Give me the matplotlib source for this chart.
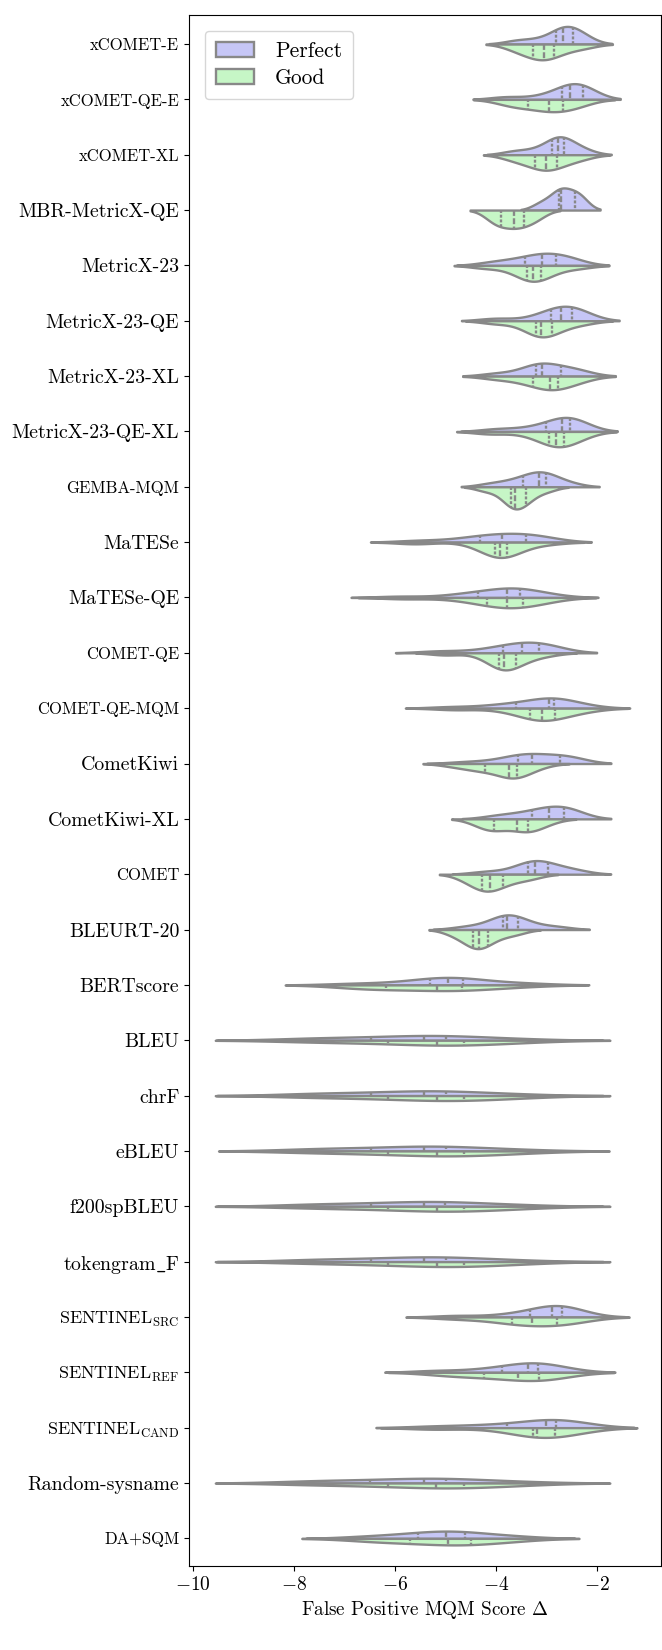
import matplotlib
matplotlib.use("Agg")
import pandas as pd
import matplotlib.pyplot as plt
import seaborn as sns
from matplotlib.patches import Patch

plt.rcParams['font.family'] = 'cmr10'
plt.rcParams['mathtext.fontset'] = 'cm'
plt.rcParams['axes.formatter.use_mathtext'] = True

metrics = ["xCOMET-E", "xCOMET-QE-E", "xCOMET-XL", "MBR-MetricX-QE", "MetricX-23",
           "MetricX-23-QE", "MetricX-23-XL", "MetricX-23-QE-XL", "GEMBA-MQM", "MaTESe",
           "MaTESe-QE", "COMET-QE", "COMET-QE-MQM", "CometKiwi", "CometKiwi-XL", "COMET",
           "BLEURT-20", "BERTscore", "BLEU", "chrF", "eBLEU", "f200spBLEU", "tokengram_F",
           "Sentinel-src", "Sentinel-ref", "Sentinel-cand", "Random-sysname", "DA+SQM"]

tick_labels = ["xCOMET-E", "xCOMET-QE-E", "xCOMET-XL", "MBR-MetricX-QE", "MetricX-23",
               "MetricX-23-QE", "MetricX-23-XL", "MetricX-23-QE-XL", "GEMBA-MQM", "MaTESe",
               "MaTESe-QE", "COMET-QE", "COMET-QE-MQM", "CometKiwi", "CometKiwi-XL", "COMET",
               "BLEURT-20", "BERTscore", "BLEU", "chrF", "eBLEU", "f200spBLEU", r"tokengram$\_$F",
               r"SENTINEL$_\mathregular{SRC}$", r"SENTINEL$_\mathregular{REF}$",
               r"SENTINEL$_\mathregular{CAND}$", "Random-sysname", "DA+SQM"]

small_caps = ["xCOMET-E", "xCOMET-QE-E", "xCOMET-XL", "GEMBA-MQM", "COMET-QE",
              "COMET-QE-MQM", "COMET", "DA+SQM"]
sentinels = ["Sentinel-src", "Sentinel-ref", "Sentinel-cand"]

# false positive MQM score delta, per metric
perfect = {
    "xCOMET-E": [-3.6, -3.2, -2.82, -2.72, -2.67, -2.6, -2.47, -2.4, -2.25],
    "xCOMET-QE-E": [-3.8, -3.1, -2.69, -2.6, -2.54, -2.45, -2.29, -2.25, -2.2],
    "xCOMET-XL": [-3.65, -3.25, -2.90, -2.82, -2.77, -2.72, -2.66, -2.5, -2.25],
    "MBR-MetricX-QE": [-3.15, -2.95, -2.76, -2.73, -2.71, -2.58, -2.44, -2.36, -2.3],
    "MetricX-23": [-4.1, -3.7, -3.42, -3.2, -3.09, -2.95, -2.81, -2.6, -2.45],
    "MetricX-23-QE": [-4.0, -3.2, -2.91, -2.8, -2.71, -2.6, -2.5, -2.35, -2.25],
    "MetricX-23-XL": [-4.0, -3.45, -3.21, -3.15, -3.09, -2.95, -2.71, -2.5, -2.3],
    "MetricX-23-QE-XL": [-4.0, -3.4, -3.01, -2.8, -2.69, -2.6, -2.54, -2.4, -2.3],
    "GEMBA-MQM": [-4.1, -3.7, -3.46, -3.3, -3.16, -3.08, -3.02, -2.9, -2.55],
    "MaTESe": [-5.5, -4.6, -4.32, -4.05, -3.88, -3.65, -3.40, -3.2, -3.1],
    "MaTESe-QE": [-5.9, -4.8, -4.45, -4.33, -3.95, -3.82, -3.74, -3.66, -3.56, -3.45, -3.25, -2.95],
    "COMET-QE": [-5.1, -4.2, -3.86, -3.6, -3.48, -3.35, -3.15, -3.0, -2.9],
    "COMET-QE-MQM": [-4.9, -4.1, -3.75, -3.55, -3.2, -2.98, -2.93, -2.9, -2.87, -2.8, -2.55, -2.25],
    "CometKiwi": [-4.6, -4.0, -3.65, -3.55, -3.45, -3.35, -3.22, -3.05, -2.78, -2.6, -2.55, -2.5],
    "CometKiwi-XL": [-4.0, -3.6, -3.29, -3.1, -2.96, -2.8, -2.66, -2.55, -2.4],
    "COMET": [-4.2, -3.6, -3.36, -3.28, -3.23, -3.1, -2.98, -2.7, -2.4],
    "BLEURT-20": [-4.6, -4.1, -3.86, -3.82, -3.78, -3.68, -3.57, -3.3, -2.8],
    "BERTscore": [-6.8, -5.8, -5.30, -5.1, -4.95, -4.8, -4.66, -4.2, -3.4],
    "BLEU": [-7.8, -7.2, -6.47, -5.8, -5.43, -5.2, -4.99, -4.4, -3.6],
    "chrF": [-7.8, -7.2, -6.47, -5.8, -5.43, -5.2, -4.99, -4.4, -3.6],
    "eBLEU": [-7.75, -7.2, -6.47, -5.8, -5.43, -5.2, -4.99, -4.4, -3.6],
    "f200spBLEU": [-7.8, -7.2, -6.47, -5.8, -5.42, -5.2, -5.0, -4.4, -3.6],
    "tokengram_F": [-7.8, -7.2, -6.47, -5.8, -5.43, -5.2, -4.99, -4.4, -3.6],
    "Sentinel-src": [-4.8, -3.9, -3.42, -3.3, -3.0, -2.93, -2.87, -2.8, -2.72, -2.6, -2.45, -2.3],
    "Sentinel-ref": [-5.2, -4.3, -3.88, -3.5, -3.36, -3.27, -3.17, -2.95, -2.65],
    "Sentinel-cand": [-5.2, -4.3, -3.78, -3.2, -3.02, -2.92, -2.81, -2.5, -2.45],
    "Random-sysname": [-7.8, -7.2, -6.50, -5.8, -5.43, -5.2, -4.99, -4.4, -3.6],
    "DA+SQM": [-6.6, -5.9, -5.54, -5.2, -4.99, -4.8, -4.61, -4.2, -3.6],
}

good = {
    "xCOMET-E": [-3.65, -3.45, -3.26, -3.15, -3.06, -2.95, -2.85, -2.6, -2.25],
    "xCOMET-QE-E": [-3.8, -3.6, -3.36, -3.1, -2.96, -2.85, -2.67, -2.5, -2.3],
    "xCOMET-XL": [-3.7, -3.45, -3.23, -3.1, -3.02, -2.92, -2.79, -2.6, -2.3],
    "MBR-MetricX-QE": [-4.1, -4.0, -3.90, -3.75, -3.65, -3.55, -3.44, -3.3, -3.15],
    "MetricX-23": [-4.2, -3.6, -3.38, -3.32, -3.27, -3.2, -3.11, -2.9, -2.4],
    "MetricX-23-QE": [-4.0, -3.4, -3.21, -3.15, -3.11, -3.0, -2.90, -2.7, -2.3],
    "MetricX-23-XL": [-4.0, -3.5, -3.27, -3.05, -2.94, -2.85, -2.77, -2.55, -2.3],
    "MetricX-23-QE-XL": [-4.1, -3.3, -2.96, -2.88, -2.81, -2.73, -2.65, -2.5, -2.3],
    "GEMBA-MQM": [-4.2, -3.8, -3.71, -3.66, -3.63, -3.52, -3.40, -3.35, -3.0],
    "MaTESe": [-5.6, -4.3, -4.05, -4.0, -3.97, -3.93, -3.9, -3.85, -3.8, -3.75, -3.5, -3.0],
    "MaTESe-QE": [-5.8, -4.7, -4.28, -4.15, -3.95, -3.82, -3.76, -3.66, -3.5, -3.35, -3.2, -2.95],
    "COMET-QE": [-5.0, -4.2, -3.97, -3.92, -3.88, -3.85, -3.83, -3.75, -3.64, -3.52, -3.35, -3.0],
    "COMET-QE-MQM": [-4.8, -3.8, -3.4, -3.3, -3.2, -3.12, -3.06, -3.0, -2.86, -2.75, -2.5, -2.2],
    "CometKiwi": [-4.85, -4.5, -4.3, -4.18, -3.9, -3.78, -3.7, -3.65, -3.6, -3.55, -3.4, -3.15],
    "CometKiwi-XL": [-4.3, -4.15, -4.05, -3.95, -3.59, -3.4, -3.36, -3.3, -3.0],
    "COMET": [-4.6, -4.4, -4.28, -4.2, -4.11, -4.0, -3.86, -3.6, -3.3],
    "BLEURT-20": [-4.85, -4.6, -4.45, -4.4, -4.34, -4.25, -4.15, -3.9, -3.6],
    "BERTscore": [-6.8, -6.5, -6.18, -5.6, -5.16, -4.9, -4.68, -4.3, -3.6],
    "BLEU": [-7.8, -6.9, -6.14, -5.5, -5.16, -4.9, -4.64, -4.1, -3.5],
    "chrF": [-7.8, -6.9, -6.14, -5.5, -5.16, -4.9, -4.64, -4.1, -3.5],
    "eBLEU": [-7.75, -6.9, -6.14, -5.5, -5.16, -4.9, -4.64, -4.1, -3.5],
    "f200spBLEU": [-7.8, -6.9, -6.14, -5.5, -5.16, -4.9, -4.64, -4.1, -3.5],
    "tokengram_F": [-7.8, -6.9, -6.14, -5.5, -5.16, -4.9, -4.64, -4.1, -3.5],
    "Sentinel-src": [-4.8, -4.0, -3.68, -3.45, -3.28, -3.0, -2.80, -2.6, -2.35],
    "Sentinel-ref": [-5.1, -4.6, -4.24, -3.8, -3.57, -3.3, -3.15, -2.95, -2.7],
    "Sentinel-cand": [-5.2, -3.8, -3.26, -3.22, -3.19, -3.0, -2.83, -2.6, -2.3],
    "Random-sysname": [-7.8, -6.9, -6.14, -5.5, -5.18, -4.9, -4.64, -4.1, -3.5],
    "DA+SQM": [-6.6, -6.1, -5.70, -5.2, -4.95, -4.7, -4.49, -4.1, -3.6],
}

perfect_color = "#c6c6f6"
good_color = "#c6f6c6"
line_color = "#888888"

rows = []
for m in metrics:
    for v in perfect[m]:
        rows.append((m, "Perfect", v))
    for v in good[m]:
        rows.append((m, "Good", v))
df = pd.DataFrame(rows, columns=["metric", "group", "delta"])

fig = plt.figure(figsize=(6.62, 16.5), dpi=100)
ax = fig.add_axes([0.2855, 0.0509, 0.7125, 0.9402])

sns.violinplot(data=df, x="delta", y="metric", hue="group", order=metrics,
               hue_order=["Perfect", "Good"], split=True, inner="quart", orient="h",
               palette={"Perfect": perfect_color, "Good": good_color}, saturation=1,
               linecolor=line_color, linewidth=1.7, density_norm="area", cut=2,
               legend=False, ax=ax)

ax.set_xlim(-10.07, -0.745)
ax.set_ylim(len(metrics) - 0.5, -0.53)
ax.set_xticks([-10, -8, -6, -4, -2])
ax.set_yticks(range(len(metrics)))
ax.set_yticklabels(tick_labels)
for t, m in zip(ax.get_yticklabels(), metrics):
    if m in small_caps:
        t.set_fontsize(12.0)
    elif m in sentinels:
        t.set_fontsize(13.0)
    else:
        t.set_fontsize(14.3)
ax.tick_params(axis="x", labelsize=14)
ax.set_ylabel("")
ax.set_xlabel(r"False Positive MQM Score $\Delta$", fontsize=13.8)

handles = [Patch(facecolor=perfect_color, edgecolor=line_color, linewidth=1.7, label="Perfect"),
           Patch(facecolor=good_color, edgecolor=line_color, linewidth=1.7, label="Good")]
ax.legend(handles=handles, loc="upper left", fontsize=15.5, labelspacing=0.35,
          handlelength=1.75, handletextpad=1.0, borderaxespad=0.75, borderpad=0.5)

fig.savefig("out.png", dpi=100)
